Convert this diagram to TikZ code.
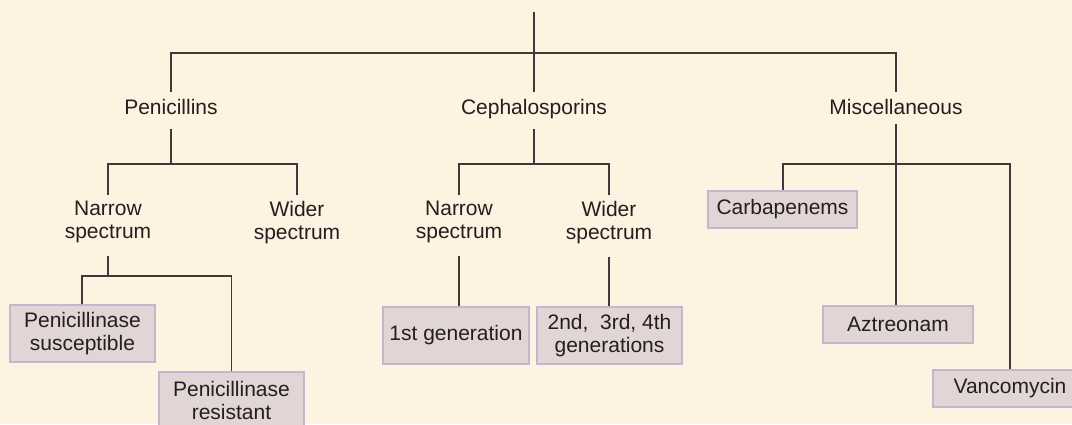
\documentclass[tikz,border=0pt]{standalone}
\usepackage{fontspec}
\setmainfont{Liberation Sans}
\definecolor{bgc}{HTML}{FEF2E1}
\definecolor{boxfill}{HTML}{E2D5D6}
\definecolor{boxline}{HTML}{C8B4CD}
\definecolor{linec}{HTML}{3C3A3A}
\definecolor{txtc}{HTML}{231F20}
\tikzset{
  lbl/.style={inner sep=0pt, outer sep=0pt, text=txtc, align=center,
    font=\fontsize{21pt}{23.5pt}\selectfont},
  lblone/.style={lbl, text height=15pt, text depth=0pt, anchor=base},
  lbltwo/.style={lbl, anchor=north},
  drugbox/.style={draw=boxline, fill=boxfill, line width=1.2pt, text=txtc,
    align=center, inner sep=0pt, font=\fontsize{21pt}{23.5pt}\selectfont},
  conn/.style={draw=linec, line width=1.3pt}
}
\begin{document}
\begin{tikzpicture}[x=1pt, y=-1pt]
\useasboundingbox (0,0) rectangle (1072,424);
\fill[bgc] (0,0) rectangle (1072,424);
\clip (0,0) rectangle (1072,424);

% level 1 labels
\node[lblone] (pen)  at (171,114) {Penicillins};
\node[lblone] (ceph) at (534,114) {Cephalosporins};
\node[lblone] (misc) at (896,114) {Miscellaneous};

% level 2 labels
\node[lbltwo] (pn) at (108,201) {Narrow\\spectrum};
\node[lbltwo] (pw) at (297,201) {Wider\\spectrum};
\node[lbltwo] (cn) at (459,201) {Narrow\\spectrum};
\node[lbltwo] (cw) at (609,201) {Wider\\spectrum};

% boxes
\node[drugbox, minimum width=145pt, minimum height=57pt] (ps) at (82.5,333.5) {Penicillinase\\susceptible};
\node[drugbox, minimum width=145pt, minimum height=57pt] (pr) at (231.5,400.5) {Penicillinase\\resistant};
\node[drugbox, minimum width=146pt, minimum height=57pt] (g1) at (456,335.5) {1st generation};
\node[drugbox, minimum width=145pt, minimum height=57pt] (g2) at (609.5,335.5) {2nd,\ \ 3rd, 4th\\generations};
\node[drugbox, minimum width=149pt, minimum height=37pt] (carb) at (782.5,209.5) {Carbapenems};
\node[drugbox, minimum width=150pt, minimum height=37pt] (azt) at (898,324.5) {Aztreonam};
\node[drugbox, minimum width=154pt, minimum height=37pt] (vanc) at (1010,388.5) {Vancomycin};

% coordinates for bars
\coordinate (root) at (534,12);
\coordinate (bar) at (534,53);
\coordinate (penbar) at (171,164);
\coordinate (pnbar) at (108,276);
\coordinate (cbar) at (534,164);
\coordinate (mbar) at (896,164);

% connectors
\draw[conn] (root) -- (bar);
\draw[conn] ([yshift=7pt]pen.north) |- (bar) -| ([yshift=7pt]misc.north);
\draw[conn] (bar) -- ([yshift=7pt]ceph.north);

\draw[conn] ([yshift=-15pt]pen.south) -- (penbar);
\draw[conn] ([yshift=6pt]pn.north) |- (penbar) -| ([yshift=6pt]pw.north);
\draw[conn] ([yshift=-13pt]pn.south) -- (pnbar);
\draw[conn] (ps.north -| 82,0) |- (pnbar) -| (pr.north);

\draw[conn] ([yshift=-15pt]ceph.south) -- (cbar);
\draw[conn] ([yshift=6pt]cn.north) |- (cbar) -| ([yshift=6pt]cw.north);
\draw[conn] ([yshift=-13pt]cn.south) -- (cn.south |- g1.north);
\draw[conn] ([yshift=-13pt]cw.south) -- (cw.south |- g2.north);

\draw[conn] ([yshift=-10pt]misc.south) -- (mbar);
\draw[conn] (carb.north -| 783,0) |- (mbar) -| (vanc.north);
\draw[conn] (mbar) -- (mbar |- azt.north);
\end{tikzpicture}
\end{document}
